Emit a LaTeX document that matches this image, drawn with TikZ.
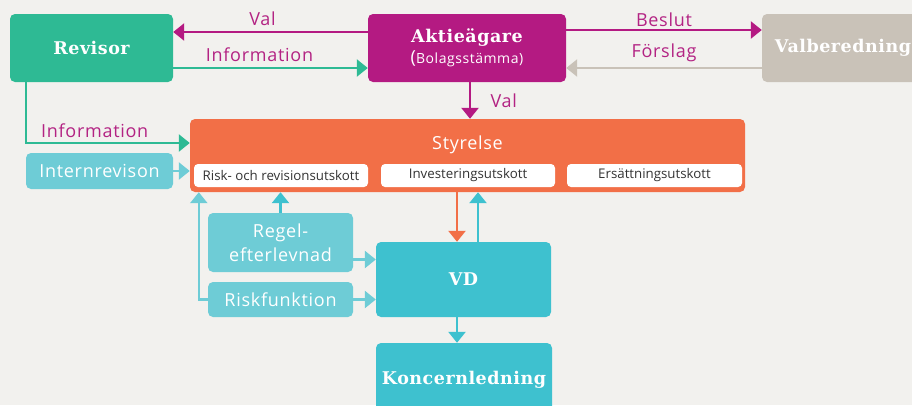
\documentclass[tikz,border=0pt]{standalone}
\usepackage{fontspec}
\setmainfont{Open Sans}[LetterSpace=4]
\newfontfamily\headfont{DejaVu Serif}[LetterSpace=3]
\newfontfamily\subfont{Open Sans}
\usetikzlibrary{positioning,arrows.meta}

\definecolor{bgc}{HTML}{F2F1EE}
\definecolor{revgreen}{HTML}{2EBA94}
\definecolor{aktmag}{HTML}{B41A82}
\definecolor{labmag}{HTML}{B32383}
\definecolor{valgrey}{HTML}{C9C2B8}
\definecolor{styorange}{HTML}{F26F47}
\definecolor{lteal}{HTML}{6ECCD6}
\definecolor{teal}{HTML}{3EC1CF}
\definecolor{txtgrey}{HTML}{333333}

\begin{document}
\begin{tikzpicture}[
    x=1pt, y=-1pt,
    box/.style={rounded corners=5pt, inner sep=0pt, align=center, text=white,
      font=\headfont\bfseries\fontsize{17.5}{20}\selectfont},
    fbox/.style={rounded corners=5pt, inner sep=0pt, align=center, text=white,
      fill=lteal, font=\fontsize{18}{24}\selectfont},
    sub/.style={fill=white, rounded corners=4pt, inner sep=0pt, minimum height=23pt,
      text=txtgrey, font=\subfont\fontsize{13.3}{15}\selectfont},
    arr/.style={-{Triangle[width=17pt,length=11pt]}, line width=2.5pt},
    lab/.style={text=labmag, font=\fontsize{18}{20}\selectfont}
  ]
    \useasboundingbox (0,0) rectangle (912,405);
    \fill[bgc] (0,0) rectangle (912,405);
    \clip (0,0) rectangle (912,405);

    % top row
    \node[box, fill=revgreen, minimum width=163pt, minimum height=68pt] (rev) at (91.5,48) {Revisor};
    \node[box, fill=aktmag, minimum width=198pt, minimum height=68pt] (akt) at (467,48)
      {Aktieägare\\[1pt]{\normalfont\mdseries\fontsize{18}{20}\selectfont(\fontsize{14}{20}\selectfont Bolagsstämma)}};
    \node[box, fill=valgrey, minimum width=162pt, minimum height=68pt] (valb) at (843,48) {Valberedning};

    % styrelse with utskott
    \node[rounded corners=5pt, fill=styorange, minimum width=555pt, minimum height=73pt] (sty) at (467.5,155.5) {};
    \node[text=white, font=\fontsize{18}{20}\selectfont] (stytxt) at ([yshift=-26pt]sty.north) {Styrelse};
    \node[sub, minimum width=174pt] (risk) at (281,175.5) {Risk- och revisionsutskott};
    \node[sub, minimum width=174pt] (inv) at (468,175.5) {Investeringsutskott};
    \node[sub, minimum width=175pt] (ers) at (654.5,175.5) {Ersättningsutskott};

    \node[fbox, minimum width=147pt, minimum height=36pt] (intr) at (99.5,171) {Internrevison};
    \node[fbox, minimum width=145pt, minimum height=59pt] (regel) at (280.5,242.5) {Regel-\\efterlevnad};
    \node[fbox, minimum width=145pt, minimum height=35pt] (riskf) at (280.5,299.5) {Riskfunktion};

    \node[box, fill=teal, minimum width=175pt, minimum height=75pt] (vd) at (463.5,279.5) {VD};
    \node[box, fill=teal, minimum width=176pt, minimum height=74pt] (konc) at (464,380) {Koncernledning};

    % arrows
    \draw[arr, aktmag] ([yshift=16pt]akt.west) -- ([yshift=16pt]rev.east)
      node[midway, above=2pt, lab, xshift=-8pt] {Val};
    \draw[arr, revgreen] ([yshift=-20pt]rev.east) -- ([yshift=-20pt]akt.west)
      node[midway, above=2pt, lab, xshift=-11pt] {Information};
    \draw[arr, aktmag] ([yshift=18pt]akt.east) -- ([yshift=18pt]valb.west)
      node[midway, above=-1pt, lab] {Beslut};
    \draw[arr, valgrey] ([yshift=-20pt]valb.west) -- ([yshift=-20pt]akt.east)
      node[midway, above=2pt, lab] {Förslag};
    \draw[arr, aktmag] ([xshift=3pt]akt.south) -- ([xshift=3pt]akt.south |- sty.north)
      node[midway, right=16pt, lab] {Val};
    \draw[arr, revgreen] ([xshift=16pt]rev.south west) |- ([yshift=12.5pt]sty.west)
      node[pos=0.71, above=1pt, lab] {Information};
    \draw[arr, lteal] (intr.east) -- (intr.east -| sty.west);

    \draw[arr, teal] (regel.north) -- (regel.north |- sty.south);
    \draw[arr, lteal] (riskf.west) -| ([xshift=9pt]sty.south west);
    \draw[arr, lteal] ([yshift=-17pt]regel.east) -- ([yshift=-17pt]regel.east -| vd.west);
    \draw[arr, lteal] (riskf.east) -- (riskf.east -| vd.west);

    \draw[arr, styorange] ([xshift=-6.5pt]sty.south -| vd.north) -- ([xshift=-6.5pt]vd.north);
    \draw[arr, teal] ([xshift=14.5pt]vd.north) -- ([xshift=14.5pt]vd.north |- sty.south);
    \draw[arr, teal] ([xshift=-6.5pt]vd.south) -- ([xshift=-6.5pt]vd.south |- konc.north);
  \end{tikzpicture}
\end{document}
